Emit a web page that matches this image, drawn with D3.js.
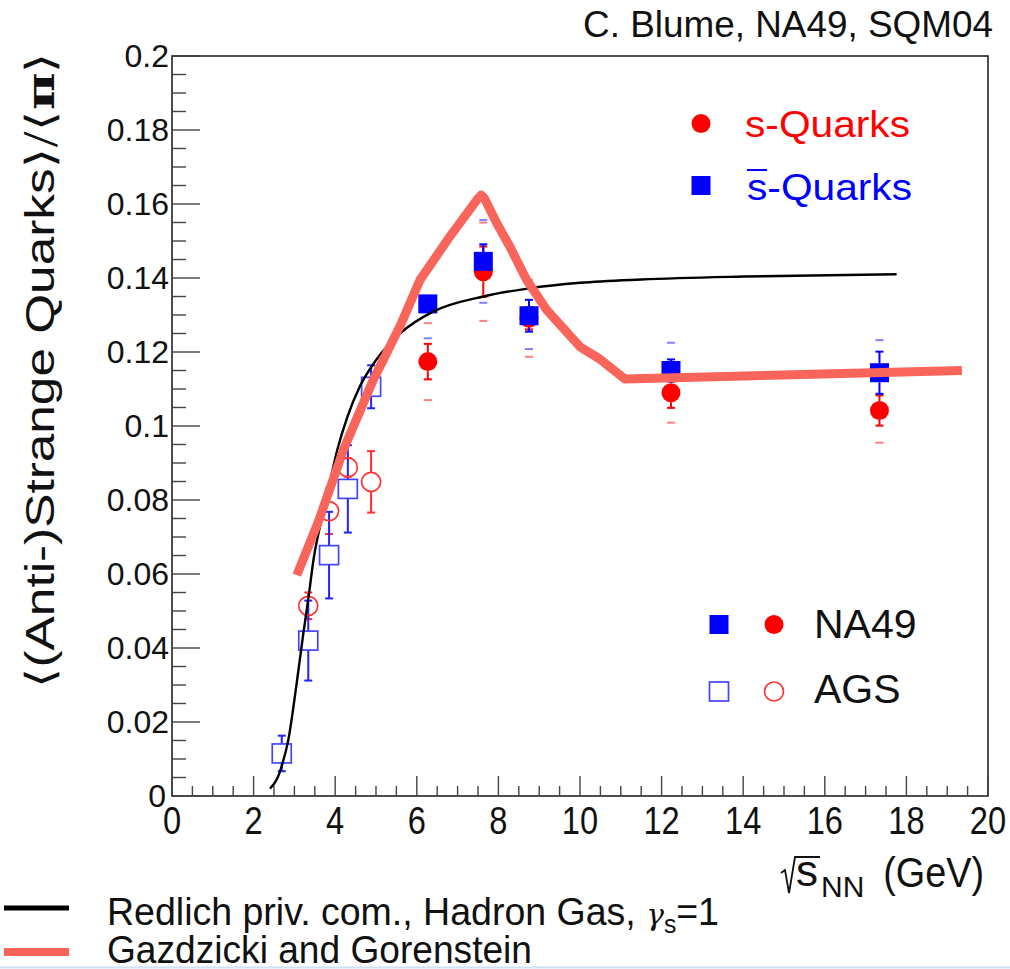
<!DOCTYPE html>
<html>
<head>
<meta charset="utf-8">
<script src="https://cdn.jsdelivr.net/npm/d3@7"></script>
<style>
  html, body { margin: 0; padding: 0; background: #fff; }
  svg { display: block; }
  text { font-family: "Liberation Sans", Arial, sans-serif; }
</style>
</head>
<body>
<svg id="chart" width="1010" height="969"></svg>
<script>
// ---- NA49 (Pb+Pb) points: energy, <s>/<pi>, <sbar>/<pi>, stat and sys errors
const na49Energy   = [6.27, 7.63, 8.75, 12.23, 17.34];
const na49S        = [0.1174, 0.1417, 0.1291, 0.1090, 0.1042];
const na49SStat    = [0.0048, 0.0068, 0.0030, 0.0041, 0.0041];
const na49SSys     = [0.0104, 0.0133, 0.0104, 0.0081, 0.0087];
const na49SBar     = [0.1330, 0.1445, 0.1298, 0.1150, 0.1144];
const na49SBarStat = [0.0020, 0.0046, 0.0043, 0.0030, 0.0057];
const na49SBarSys  = [0.0093, 0.0112, 0.0090, 0.0075, 0.0088];

// ---- AGS (Au+Au) points
const agsSBarEnergy = [2.69, 3.34, 3.85, 4.31, 4.88];
const agsSBar       = [0.0115, 0.0420, 0.0651, 0.0830, 0.1106];
const agsSBarErr    = [0.0048, 0.0108, 0.0117, 0.0118, 0.0058];
const agsSEnergy    = [3.34, 3.85, 4.31, 4.88];
const agsS          = [0.0514, 0.0770, 0.0888, 0.0849];
const agsSErr       = [0.0036, 0.0062, 0.0025, 0.0083];

// ---- Model curves
const hadronGasX = [2.40, 2.57, 2.70, 2.85, 3.05, 3.22, 3.35, 3.47, 3.63, 3.75, 4.05, 4.30, 4.60, 5.00, 5.60, 6.40, 7.63, 8.75, 10.0, 11.5, 14.0, 17.76];
const hadronGasY = [0.0020, 0.0045, 0.0085, 0.0151, 0.0300, 0.0440, 0.0540, 0.0640, 0.0730, 0.0785, 0.0935, 0.1025, 0.1106, 0.1178, 0.1251, 0.1309, 0.1350, 0.1372, 0.1387, 0.1396, 0.1404, 0.1410];
const smesX = [3.06, 3.60, 4.20, 4.93, 5.59, 6.08, 6.81, 7.50, 7.58, 7.66, 7.96, 8.28, 8.69, 9.18, 10.0, 10.5, 11.1, 19.36];
const smesY = [0.0597, 0.0745, 0.0935, 0.1124, 0.1270, 0.1395, 0.1512, 0.1615, 0.1624, 0.1615, 0.1548, 0.1485, 0.1395, 0.1314, 0.1214, 0.1180, 0.1127, 0.1150];

// ---- Axis ticks
const xMajor = [0, 2, 4, 6, 8, 10, 12, 14, 16, 18, 20];
const xTickLabels = ["0", "2", "4", "6", "8", "10", "12", "14", "16", "18", "20"];
const yMajor = [0, 0.02, 0.04, 0.06, 0.08, 0.1, 0.12, 0.14, 0.16, 0.18, 0.2];
const yTickLabels = ["0", "0.02", "0.04", "0.06", "0.08", "0.1", "0.12", "0.14", "0.16", "0.18", "0.2"];

// ---- Layout
const frame = { left: 172, right: 988, top: 56, bottom: 796 };
const svg = d3.select("#chart");
const x = d3.scaleLinear().domain([0, 20]).range([frame.left, frame.right]);
const y = d3.scaleLinear().domain([0, 0.2]).range([frame.bottom, frame.top]);

const RED = "#ff0000", BLUE = "#0000ff", SMES = "#f9655a";

// frame + ticks
const axes = svg.append("g");
axes.append("rect")
  .attr("x", frame.left).attr("y", frame.top)
  .attr("width", frame.right - frame.left).attr("height", frame.bottom - frame.top)
  .attr("fill", "none").attr("stroke", "#222").attr("stroke-width", 1.6);

const xMinor = d3.range(0, 20.001, 0.5);
axes.selectAll(".xt").data(xMinor).join("line")
  .attr("x1", d => x(d)).attr("x2", d => x(d))
  .attr("y1", frame.bottom)
  .attr("y2", d => frame.bottom - (Math.abs(d / 2 - Math.round(d / 2)) < 1e-6 ? 20 : 10))
  .attr("stroke", "#444").attr("stroke-width", 1.4);

const yMinor = d3.range(0, 0.2001, 0.005);
axes.selectAll(".yt").data(yMinor).join("line")
  .attr("y1", d => y(d)).attr("y2", d => y(d))
  .attr("x1", frame.left)
  .attr("x2", d => frame.left + (Math.abs(d / 0.02 - Math.round(d / 0.02)) < 1e-6 ? 28 : 14))
  .attr("stroke", "#444").attr("stroke-width", 1.4);

// narrow tick labels on the energy axis
axes.selectAll(".xl").data(xMajor).join("text")
  .attr("transform", d => `translate(${x(d)}, ${frame.bottom + 38}) scale(0.86, 1)`)
  .attr("text-anchor", "middle").attr("font-size", 38).attr("fill", "#111")
  .text((d, i) => xTickLabels[i]);

axes.selectAll(".yl").data(yMajor).join("text")
  .attr("x", d => d === 0 ? frame.left - 6 : frame.left - 3).attr("y", d => y(d) + 11)
  .attr("text-anchor", "end").attr("font-size", 32).attr("fill", "#111")
  .text((d, i) => yTickLabels[i]);

// axis titles
const yTitle = svg.append("text")
  .attr("transform", `translate(54, ${frame.top - 4}) rotate(-90)`)
  .attr("text-anchor", "end").attr("font-size", 40).attr("fill", "#111")
  .attr("textLength", 636).attr("lengthAdjust", "spacingAndGlyphs");
yTitle.append("tspan").attr("font-family", "DejaVu Sans").attr("font-weight", 200).text("\u27E8");
yTitle.append("tspan").text("(Anti-)Strange Quarks");
yTitle.append("tspan").attr("font-family", "DejaVu Sans").attr("font-weight", 200).text("\u27E9/\u27E8");
yTitle.append("tspan").attr("font-family", "DejaVu Serif").attr("font-weight", "bold").text("\u03C0");
yTitle.append("tspan").attr("font-family", "DejaVu Sans").attr("font-weight", 200).text("\u27E9");

const xt = svg.append("g");
xt.append("path")
  .attr("d", "M781,873 L785,870 L789,893 L795,857 L820,857")
  .attr("fill", "none").attr("stroke", "#111").attr("stroke-width", 1.8);
xt.append("text").attr("x", 796).attr("y", 886).attr("font-size", 44).attr("fill", "#111").text("s");
xt.append("text").attr("x", 821).attr("y", 897).attr("font-size", 30).attr("fill", "#111").text("NN");
xt.append("text").attr("transform", "translate(984, 887) scale(0.9, 1)").attr("text-anchor", "end").attr("font-size", 42).attr("fill", "#111").text("(GeV)");

// header
svg.append("text").attr("x", 993).attr("y", 37).attr("text-anchor", "end")
  .attr("font-size", 36).attr("fill", "#111")
  .attr("textLength", 410).attr("lengthAdjust", "spacingAndGlyphs").text("C. Blume, NA49, SQM04");

// ---- data layers
const plot = svg.append("g");

// systematic error ticks (faint end marks)
function sysMarks(xs, ys, es, color) {
  const rows = [];
  xs.forEach((v, i) => { rows.push([v, ys[i] + es[i]]); rows.push([v, ys[i] - es[i]]); });
  plot.append("g").selectAll("line").data(rows).join("line")
    .attr("x1", d => x(d[0]) - 4).attr("x2", d => x(d[0]) + 4)
    .attr("y1", d => y(d[1])).attr("y2", d => y(d[1]))
    .attr("stroke", color).attr("stroke-opacity", 0.5).attr("stroke-width", 2);
}
// statistical error bars, drawn outside the marker with end caps
function statBars(xs, ys, es, color, half) {
  const g = plot.append("g").attr("stroke", color).attr("stroke-width", 2);
  xs.forEach((v, i) => {
    const cx = x(v), cy = y(ys[i]), top = y(ys[i] + es[i]), bot = y(ys[i] - es[i]);
    if (cy - top > half) g.append("line").attr("x1", cx).attr("x2", cx).attr("y1", top).attr("y2", cy - half);
    if (bot - cy > half) g.append("line").attr("x1", cx).attr("x2", cx).attr("y1", cy + half).attr("y2", bot);
    g.append("line").attr("x1", cx - 4).attr("x2", cx + 4).attr("y1", top).attr("y2", top);
    g.append("line").attr("x1", cx - 4).attr("x2", cx + 4).attr("y1", bot).attr("y2", bot);
  });
}

sysMarks(na49Energy, na49S, na49SSys, RED);
sysMarks(na49Energy, na49SBar, na49SBarSys, BLUE);
statBars(agsSEnergy, agsS, agsSErr, "#ff2a2a", 9.5);
statBars(agsSBarEnergy, agsSBar, agsSBarErr, "#2222ff", 9.5);
statBars(na49Energy, na49S, na49SStat, RED, 9.5);
statBars(na49Energy, na49SBar, na49SBarStat, BLUE, 9.5);

// AGS open markers
plot.append("g").selectAll("rect").data(agsSBarEnergy).join("rect")
  .attr("x", d => x(d) - 9.5).attr("y", (d, i) => y(agsSBar[i]) - 9.5)
  .attr("width", 19).attr("height", 19)
  .attr("fill", "none").attr("stroke", "#4444ff").attr("stroke-width", 1.7);
plot.append("g").selectAll("circle").data(agsSEnergy).join("circle")
  .attr("cx", d => x(d)).attr("cy", (d, i) => y(agsS[i])).attr("r", 9.5)
  .attr("fill", "none").attr("stroke", "#ff3333").attr("stroke-width", 1.7);

// NA49 filled markers
plot.append("g").selectAll("circle").data(na49Energy).join("circle")
  .attr("cx", d => x(d)).attr("cy", (d, i) => y(na49S[i])).attr("r", 9.5)
  .attr("fill", RED);
plot.append("g").selectAll("rect").data(na49Energy).join("rect")
  .attr("x", d => x(d) - 9.5).attr("y", (d, i) => y(na49SBar[i]) - 9.5)
  .attr("width", 19).attr("height", 19).attr("fill", BLUE);

// model curves
const hgLine = d3.line().x(d => x(d[0])).y(d => y(d[1])).curve(d3.curveMonotoneX);
plot.append("path").datum(d3.zip(hadronGasX, hadronGasY))
  .attr("d", hgLine).attr("fill", "none").attr("stroke", "#000").attr("stroke-width", 2.4);

const smesLine = d3.line().x(d => x(d[0])).y(d => y(d[1]));
plot.append("path").datum(d3.zip(smesX, smesY))
  .attr("d", smesLine).attr("fill", "none").attr("stroke", SMES)
  .attr("stroke-width", 9).attr("stroke-linejoin", "round");

// ---- legends
const leg = svg.append("g");
leg.append("circle").attr("cx", 701).attr("cy", 123.5).attr("r", 9.5).attr("fill", RED);
leg.append("text").attr("x", 745).attr("y", 137).attr("font-size", 37).attr("fill", RED)
  .attr("textLength", 165).attr("lengthAdjust", "spacingAndGlyphs").text("s-Quarks");
leg.append("rect").attr("x", 691.5).attr("y", 176).attr("width", 19).attr("height", 19).attr("fill", BLUE);
leg.append("text").attr("x", 747).attr("y", 200).attr("font-size", 37).attr("fill", BLUE)
  .attr("textLength", 165).attr("lengthAdjust", "spacingAndGlyphs").text("s-Quarks");
leg.append("line").attr("x1", 747).attr("x2", 767).attr("y1", 170).attr("y2", 170)
  .attr("stroke", BLUE).attr("stroke-width", 2);

leg.append("rect").attr("x", 709.5).attr("y", 615).attr("width", 19).attr("height", 19).attr("fill", BLUE);
leg.append("circle").attr("cx", 774).attr("cy", 624.5).attr("r", 9.5).attr("fill", RED);
leg.append("text").attr("x", 814).attr("y", 638).attr("font-size", 41).attr("fill", "#111").text("NA49");
leg.append("rect").attr("x", 709.5).attr("y", 682).attr("width", 19).attr("height", 19)
  .attr("fill", "none").attr("stroke", "#4444ff").attr("stroke-width", 1.7);
leg.append("circle").attr("cx", 774).attr("cy", 691.5).attr("r", 9.5)
  .attr("fill", "none").attr("stroke", "#ff3333").attr("stroke-width", 1.7);
leg.append("text").attr("x", 814).attr("y", 703).attr("font-size", 41).attr("fill", "#111").text("AGS");

// model legend at the bottom
leg.append("line").attr("x1", 4).attr("x2", 69).attr("y1", 908).attr("y2", 908)
  .attr("stroke", "#000").attr("stroke-width", 5);
const t1 = leg.append("text").attr("x", 107).attr("y", 925).attr("font-size", 38).attr("fill", "#111")
  .attr("textLength", 612).attr("lengthAdjust", "spacingAndGlyphs");
t1.append("tspan").text("Redlich priv. com., Hadron Gas, ");
t1.append("tspan").attr("font-family", "DejaVu Serif").attr("font-style", "italic").attr("font-size", 30).text("\u03B3");
t1.append("tspan").attr("font-size", 25).attr("dy", 8).text("s");
t1.append("tspan").attr("dy", -8).text("=1");
leg.append("line").attr("x1", 4).attr("x2", 69).attr("y1", 952).attr("y2", 952)
  .attr("stroke", SMES).attr("stroke-width", 8);
leg.append("text").attr("x", 107).attr("y", 963).attr("font-size", 38).attr("fill", "#111")
  .attr("textLength", 425).attr("lengthAdjust", "spacingAndGlyphs")
  .text("Gazdzicki and Gorenstein");

svg.append("line").attr("x1", 0).attr("x2", 1010).attr("y1", 967.5).attr("y2", 967.5)
  .attr("stroke", "#cfe2f6").attr("stroke-width", 2);
</script>
</body>
</html>
